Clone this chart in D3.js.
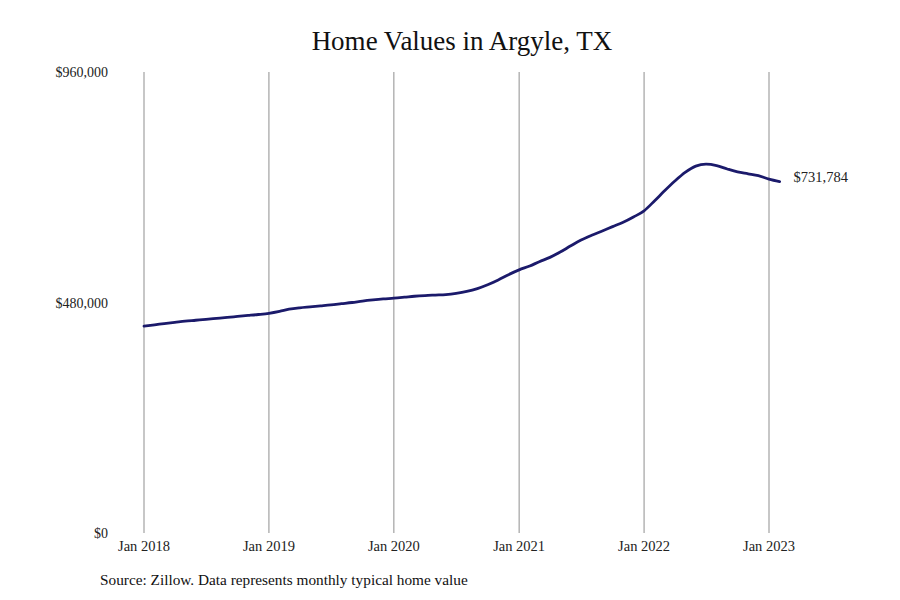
<!DOCTYPE html>
<html>
<head>
<meta charset="utf-8">
<script src="https://cdn.jsdelivr.net/npm/d3@7"></script>
<style>
  body { margin: 0; background: #fff; }
  svg { display: block; }
  text { font-family: "Liberation Serif", "Times New Roman", serif; }
</style>
</head>
<body>
<svg id="chart" width="900" height="600"></svg>
<script>
// ---- data ----
const startMonth = "2018-01";
const values = [
  // 2018
  431000, 433500, 436000, 438500, 441000, 443000, 445000, 447000, 449000, 451000, 453000, 455000,
  // 2019
  457500, 461500, 466000, 469000, 471000, 473000, 475000, 477500, 480000, 483000, 485500, 487500,
  // 2020
  489000, 491000, 493000, 494500, 495500, 496500, 499000, 503000, 509000, 517000, 527000, 538000,
  // 2021
  548000, 556000, 565000, 574000, 585000, 598000, 610000, 620000, 629000, 638000, 647000, 658000,
  // 2022
  671000, 692000, 712000, 733000, 751000, 764000, 768000, 765000, 758000, 752000, 748000, 744000,
  // 2023
  737000, 731784
];
const xTickLabels = ["Jan 2018", "Jan 2019", "Jan 2020", "Jan 2021", "Jan 2022", "Jan 2023"];
const xTickDates = ["2018-01-01", "2019-01-01", "2020-01-01", "2021-01-01", "2022-01-01", "2023-01-01"];
const yTicks = [0, 480000, 960000];
const titleText = "Home Values in Argyle, TX";
const sourceText = "Source: Zillow. Data represents monthly typical home value";
const endLabel = "$731,784";

// ---- build ----
const parse = d3.timeParse("%Y-%m-%d");
const start = parse(startMonth + "-01");
const data = values.map((v, i) => ({ date: d3.timeMonth.offset(start, i), value: v }));

const svg = d3.select("#chart");
const x = d3.scaleTime()
  .domain([parse("2018-01-01"), parse("2023-01-01")])
  .range([144, 769]);
const y = d3.scaleLinear().domain([0, 960000]).range([533, 72]);

// vertical gridlines
svg.append("g").selectAll("line")
  .data(xTickDates.map(parse))
  .join("line")
  .attr("x1", d => x(d)).attr("x2", d => x(d))
  .attr("y1", y(960000)).attr("y2", y(0))
  .attr("stroke", "#8f8f8f").attr("stroke-width", 1);

// x labels
svg.append("g").selectAll("text")
  .data(xTickDates.map((d, i) => ({ d: parse(d), label: xTickLabels[i] })))
  .join("text")
  .attr("x", d => x(d.d)).attr("y", 551)
  .attr("text-anchor", "middle")
  .attr("font-size", 14.5).attr("fill", "#222")
  .text(d => d.label);

// y labels
const fmt = v => "$" + d3.format(",")(v);
svg.append("g").selectAll("text")
  .data(yTicks)
  .join("text")
  .attr("x", 108).attr("y", d => y(d) + 5)
  .attr("text-anchor", "end")
  .attr("font-size", 14).attr("fill", "#222")
  .text(d => fmt(d));

// line
const line = d3.line()
  .x(d => x(d.date)).y(d => y(d.value))
  .curve(d3.curveMonotoneX);
svg.append("path")
  .datum(data)
  .attr("d", line)
  .attr("fill", "none")
  .attr("stroke", "#1b1a6b")
  .attr("stroke-width", 2.8)
  .attr("stroke-linejoin", "round")
  .attr("stroke-linecap", "round");

// end label
const last = data[data.length - 1];
svg.append("text")
  .attr("x", x(last.date) + 14).attr("y", y(last.value) + 0)
  .attr("font-size", 14.5).attr("fill", "#222")
  .text(endLabel);

// title
svg.append("text")
  .attr("x", 462).attr("y", 50)
  .attr("text-anchor", "middle")
  .attr("font-size", 27).attr("fill", "#111")
  .text(titleText);

// source
svg.append("text")
  .attr("x", 100).attr("y", 585)
  .attr("font-size", 15.3).attr("fill", "#111")
  .text(sourceText);
</script>
</body>
</html>
